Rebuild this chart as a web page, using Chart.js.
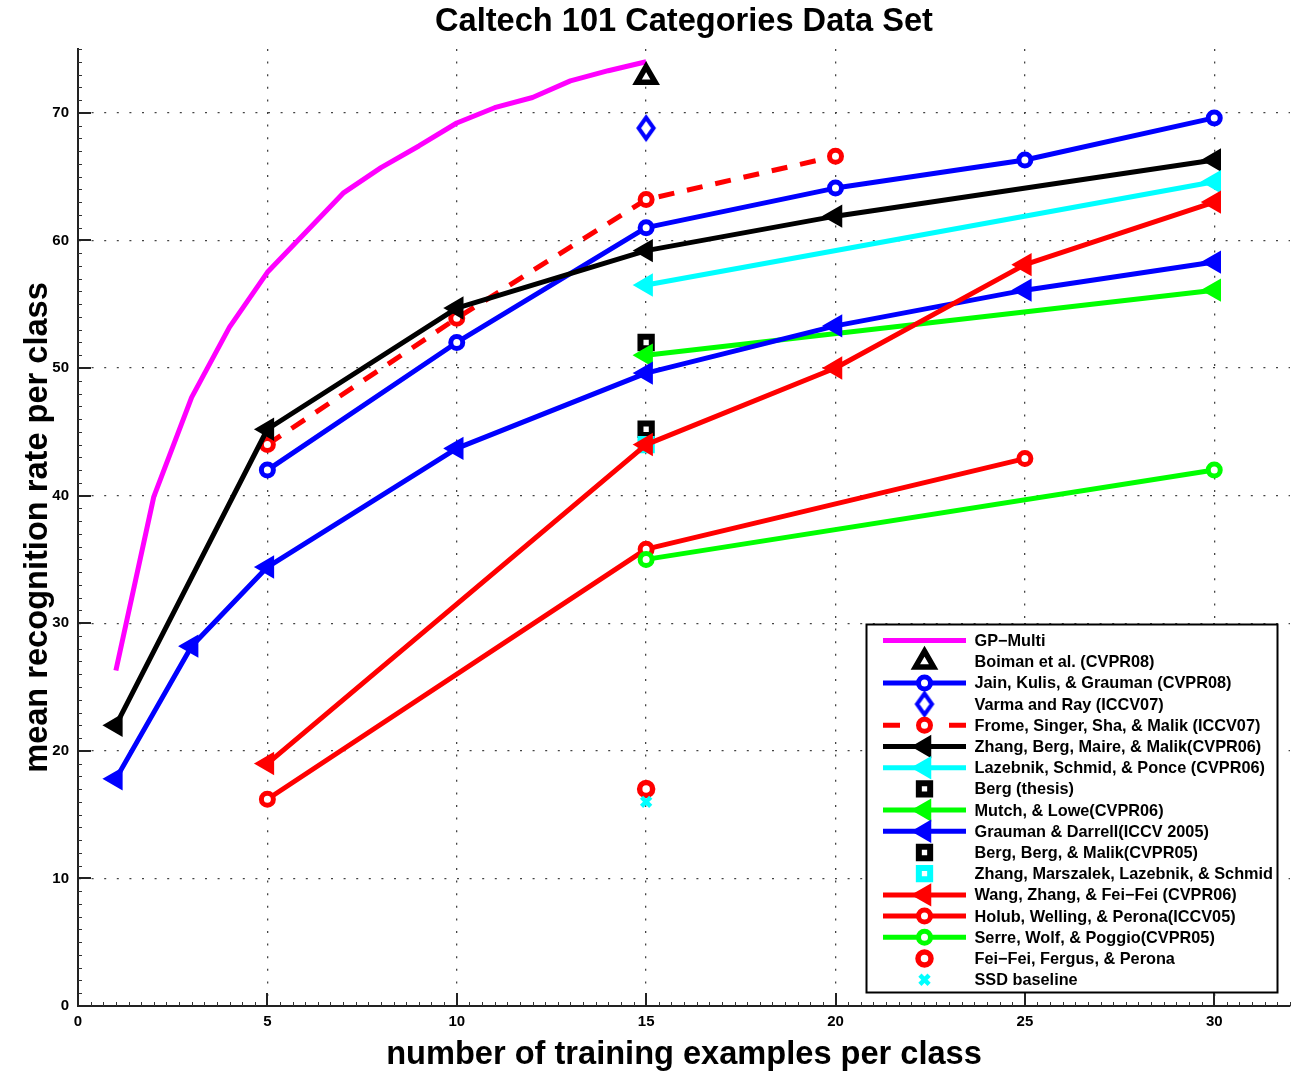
<!DOCTYPE html>
<html>
<head>
<meta charset="utf-8">
<title>Caltech 101 Categories Data Set</title>
<script src="https://cdn.jsdelivr.net/npm/chart.js@4.4.0/dist/chart.umd.min.js"></script>
<style>
  html, body { margin: 0; padding: 0; background: #ffffff; }
  #wrap { width: 1292px; height: 1073px; }
</style>
</head>
<body>
<div id="wrap"><canvas id="chart" width="1292" height="1073"></canvas></div>
<script>
// Axis ticks
const xTicks = [0, 5, 10, 15, 20, 25, 30];
const yTicks = [0, 10, 20, 30, 40, 50, 60, 70];

// Mean recognition rate (%) per number of training examples per class
const gpMultiX = [1, 2, 3, 4, 5, 6, 7, 8, 9, 10, 11, 12, 13, 14, 15];
const gpMultiY = [26.3, 39.9, 47.7, 53.2, 57.5, 60.6, 63.7, 65.7, 67.4, 69.2, 70.4, 71.2, 72.5, 73.3, 74.0];

const boimanX = [15];
const boimanY = [72.8];

const jainX = [5, 10, 15, 20, 25, 30];
const jainY = [42.0, 52.0, 61.0, 64.1, 66.3, 69.6];

const varmaX = [15];
const varmaY = [68.8];

const fromeX = [5, 10, 15, 20];
const fromeY = [44.0, 53.9, 63.2, 66.6];

const zhangBergX = [1, 5, 10, 15, 20, 30];
const zhangBergY = [22.0, 45.2, 54.7, 59.2, 61.9, 66.3];

const lazebnikX = [15, 30];
const lazebnikY = [56.5, 64.6];

const bergThesisX = [15];
const bergThesisY = [52.0];

const mutchX = [15, 30];
const mutchY = [51.0, 56.1];

const graumanX = [1, 3, 5, 10, 15, 20, 25, 30];
const graumanY = [17.8, 28.2, 34.4, 43.7, 49.6, 53.3, 56.1, 58.3];

const bergBergX = [15];
const bergBergY = [45.2];

const zhangMarszalekX = [15];
const zhangMarszalekY = [44.0];

const wangX = [5, 15, 20, 25, 30];
const wangY = [19.0, 44.0, 50.0, 58.1, 63.0];

const holubX = [5, 15, 25];
const holubY = [16.2, 35.8, 42.9];

const serreX = [15, 30];
const serreY = [35.0, 42.0];

const feiFeiX = [15];
const feiFeiY = [17.0];

const ssdX = [15];
const ssdY = [16.0];

const labels = [
  'GP\u2212Multi',
  'Boiman et al. (CVPR08)',
  'Jain, Kulis, & Grauman (CVPR08)',
  'Varma and Ray (ICCV07)',
  'Frome, Singer, Sha, & Malik (ICCV07)',
  'Zhang, Berg, Maire, & Malik(CVPR06)',
  'Lazebnik, Schmid, & Ponce (CVPR06)',
  'Berg (thesis)',
  'Mutch, & Lowe(CVPR06)',
  'Grauman & Darrell(ICCV 2005)',
  'Berg, Berg, & Malik(CVPR05)',
  'Zhang, Marszalek, Lazebnik, & Schmid',
  'Wang, Zhang, & Fei\u2212Fei (CVPR06)',
  'Holub, Welling, & Perona(ICCV05)',
  'Serre, Wolf, & Poggio(CVPR05)',
  'Fei\u2212Fei, Fergus, & Perona',
  'SSD baseline'
];

const FONT = '"Liberation Sans", Arial, Helvetica, sans-serif';
const MAGENTA = '#ff00ff', BLUE = '#0000ff', RED = '#ff0000', BLACK = '#000000', CYAN = '#00ffff', GREEN = '#00ff00';

// Tall diamond marker (drawn once into a small canvas)
function diamondMarker(color) {
  const c = document.createElement('canvas');
  c.width = 24; c.height = 30;
  const g = c.getContext('2d');
  g.lineWidth = 4;
  g.strokeStyle = color;
  g.fillStyle = '#ffffff';
  g.lineJoin = 'miter';
  g.beginPath();
  g.moveTo(12, 4.5);
  g.lineTo(19.5, 15);
  g.lineTo(12, 25.5);
  g.lineTo(4.5, 15);
  g.closePath();
  g.fill();
  g.stroke();
  return c;
}

// Marker presets
function circleMk() { return { pointStyle: 'circle', radius: 6, borderWidth: 5, fill: '#ffffff', rotation: 0 }; }
function leftTri(color) { return { pointStyle: 'triangle', radius: 11.5, borderWidth: 2, fill: color, rotation: 270 }; }
function upTri() { return { pointStyle: 'triangle', radius: 10.5, borderWidth: 5.5, fill: '#ffffff', rotation: 0 }; }
function squareMk() { return { pointStyle: 'rect', radius: 8, borderWidth: 6, fill: '#ffffff', rotation: 0 }; }
function crossMk() { return { pointStyle: 'crossRot', radius: 6.5, borderWidth: 4.5, fill: CYAN, rotation: 0 }; }
function diamondMk(color) { return { pointStyle: diamondMarker(color), radius: 10, borderWidth: 0, fill: color, rotation: 0 }; }

const series = [
  { xs: gpMultiX, ys: gpMultiY, color: MAGENTA, line: true, dash: [], marker: null },
  { xs: boimanX, ys: boimanY, color: BLACK, line: false, marker: upTri() },
  { xs: jainX, ys: jainY, color: BLUE, line: true, dash: [], marker: circleMk() },
  { xs: varmaX, ys: varmaY, color: BLUE, line: false, marker: diamondMk(BLUE) },
  { xs: fromeX, ys: fromeY, color: RED, line: true, dash: [16, 13], marker: circleMk() },
  { xs: zhangBergX, ys: zhangBergY, color: BLACK, line: true, dash: [], marker: leftTri(BLACK) },
  { xs: lazebnikX, ys: lazebnikY, color: CYAN, line: true, dash: [], marker: leftTri(CYAN) },
  { xs: bergThesisX, ys: bergThesisY, color: BLACK, line: false, marker: squareMk() },
  { xs: mutchX, ys: mutchY, color: GREEN, line: true, dash: [], marker: leftTri(GREEN) },
  { xs: graumanX, ys: graumanY, color: BLUE, line: true, dash: [], marker: leftTri(BLUE) },
  { xs: bergBergX, ys: bergBergY, color: BLACK, line: false, marker: squareMk() },
  { xs: zhangMarszalekX, ys: zhangMarszalekY, color: CYAN, line: false, marker: squareMk() },
  { xs: wangX, ys: wangY, color: RED, line: true, dash: [], marker: leftTri(RED) },
  { xs: holubX, ys: holubY, color: RED, line: true, dash: [], marker: circleMk() },
  { xs: serreX, ys: serreY, color: GREEN, line: true, dash: [], marker: circleMk() },
  { xs: feiFeiX, ys: feiFeiY, color: RED, line: false, marker: { pointStyle: 'circle', radius: 6.5, borderWidth: 5.5, fill: '#ffffff', rotation: 0 } },
  { xs: ssdX, ys: ssdY, color: CYAN, line: false, marker: crossMk() }
];

const datasets = series.map((s, i) => {
  const m = s.marker;
  return {
    label: labels[i],
    data: s.xs.map((x, k) => ({ x: x, y: s.ys[k] })),
    showLine: s.line,
    borderColor: s.color,
    borderWidth: 5,
    borderDash: s.dash || [],
    borderCapStyle: 'butt',
    borderJoinStyle: 'round',
    tension: 0,
    fill: false,
    pointStyle: m ? m.pointStyle : 'circle',
    pointRadius: m ? m.radius : 0,
    pointHoverRadius: m ? m.radius : 0,
    pointBorderWidth: m ? m.borderWidth : 0,
    pointBorderColor: s.color,
    pointBackgroundColor: m ? m.fill : s.color,
    pointRotation: m ? m.rotation : 0,
    order: -i,
    _marker: m
  };
});

// Inside tick marks (major and minor) drawn along the left and bottom axes
const axisTicks = {
  id: 'axisTicks',
  afterDatasetsDraw(chart) {
    const { ctx, chartArea: ca, scales: { x, y } } = chart;
    ctx.save();
    ctx.strokeStyle = '#333333';
    ctx.lineWidth = 1;
    for (let v = 0; v <= 32.001; v += 1 / 3) {
      const px = Math.round(x.getPixelForValue(v)) + 0.5;
      ctx.beginPath(); ctx.moveTo(px, ca.bottom); ctx.lineTo(px, ca.bottom - 4); ctx.stroke();
    }
    for (let v = 0; v <= 75; v += 1) {
      const py = Math.round(y.getPixelForValue(v)) + 0.5;
      ctx.beginPath(); ctx.moveTo(ca.left, py); ctx.lineTo(ca.left + 4, py); ctx.stroke();
    }
    ctx.lineWidth = 2;
    ctx.strokeStyle = '#222222';
    xTicks.forEach(v => {
      const px = Math.round(x.getPixelForValue(v));
      ctx.beginPath(); ctx.moveTo(px, ca.bottom); ctx.lineTo(px, ca.bottom - 13); ctx.stroke();
    });
    yTicks.forEach(v => {
      const py = Math.round(y.getPixelForValue(v));
      ctx.beginPath(); ctx.moveTo(ca.left, py); ctx.lineTo(ca.left + 13, py); ctx.stroke();
    });
    ctx.restore();
  }
};

// Boxed legend in the lower right corner showing each line style with its marker
const boxLegend = {
  id: 'boxLegend',
  afterDraw(chart) {
    const { ctx, chartArea: ca } = chart;
    const right = ca.right - 12.5, bottom = ca.bottom - 13.5;
    const w = 411, h = 368;
    const left = right - w, top = bottom - h;
    ctx.save();
    ctx.fillStyle = '#ffffff';
    ctx.fillRect(left, top, w, h);
    ctx.lineWidth = 2;
    ctx.strokeStyle = '#000000';
    ctx.strokeRect(left, top, w, h);
    const rowH = 21.2;
    const lineX0 = left + 16.5, lineX1 = left + 99.5, markX = left + 58, textX = left + 108;
    chart.data.datasets.forEach((ds, i) => {
      const cy = top + 16 + i * rowH;
      const s = series[i];
      if (s.line) {
        ctx.save();
        ctx.strokeStyle = s.color;
        ctx.lineWidth = 5;
        ctx.lineCap = 'butt';
        ctx.beginPath();
        if (s.dash && s.dash.length) {
          ctx.moveTo(lineX0, cy); ctx.lineTo(lineX0 + 17, cy);
          ctx.moveTo(lineX1 - 17, cy); ctx.lineTo(lineX1, cy);
        } else {
          ctx.moveTo(lineX0, cy); ctx.lineTo(lineX1, cy);
        }
        ctx.stroke();
        ctx.restore();
      }
      const m = ds._marker;
      if (m) {
        ctx.save();
        ctx.fillStyle = m.fill;
        ctx.strokeStyle = s.color;
        ctx.lineWidth = m.borderWidth;
        Chart.helpers.drawPoint(ctx, { pointStyle: m.pointStyle, rotation: m.rotation, radius: m.radius, borderWidth: m.borderWidth }, markX, cy);
        ctx.restore();
      }
      ctx.fillStyle = '#000000';
      ctx.font = 'bold 16.3px ' + FONT;
      ctx.textAlign = 'left';
      ctx.textBaseline = 'middle';
      ctx.fillText(ds.label, textX, cy + 1);
    });
    ctx.restore();
  }
};

const gridColor = (ctx) => (ctx.tick && ctx.tick.value === 0) ? 'rgba(0,0,0,0)' : '#444444';

new Chart(document.getElementById('chart'), {
  type: 'line',
  data: { datasets: datasets },
  options: {
    responsive: false,
    animation: false,
    events: [],
    devicePixelRatio: 1,
    layout: { autoPadding: false, padding: { left: 0, right: 2, top: 0, bottom: 0 } },
    plugins: {
      legend: { display: false },
      tooltip: { enabled: false },
      title: {
        display: true,
        fullSize: false,
        text: 'Caltech 101 Categories Data Set',
        color: '#000000',
        font: { family: FONT, size: 32.6, weight: 'bold', lineHeight: 1 },
        padding: { top: 6, bottom: 10.4 }
      }
    },
    scales: {
      x: {
        type: 'linear',
        position: 'bottom',
        min: 0,
        max: 32,
        afterBuildTicks: (s) => { s.ticks = xTicks.map(v => ({ value: v })); },
        afterFit: (s) => { s.height = 67; s.paddingLeft = 0; s.paddingRight = 0; },
        ticks: {
          color: '#000000',
          font: { family: FONT, size: 15, weight: 'bold' },
          padding: 7,
          maxRotation: 0,
          autoSkip: false,
          callback: (v) => String(v)
        },
        grid: { color: gridColor, lineWidth: 1.3, drawTicks: false },
        border: { display: true, color: '#222222', width: 2, dash: [2, 10.6] },
        title: {
          display: true,
          text: 'number of training examples per class',
          color: '#000000',
          font: { family: FONT, size: 32.6, weight: 'bold', lineHeight: 1 },
          padding: { top: 0, bottom: 2 }
        }
      },
      y: {
        type: 'linear',
        position: 'left',
        min: 0,
        max: 75,
        afterBuildTicks: (s) => { s.ticks = yTicks.map(v => ({ value: v })); },
        afterFit: (s) => { s.width = 78; s.paddingTop = 0; s.paddingBottom = 0; },
        ticks: {
          color: '#000000',
          font: { family: FONT, size: 15, weight: 'bold' },
          padding: 9,
          autoSkip: false,
          callback: (v) => String(v)
        },
        grid: { color: gridColor, lineWidth: 1.3, drawTicks: false },
        border: { display: true, color: '#222222', width: 2, dash: [2, 10.6] },
        title: {
          display: true,
          text: 'mean recognition rate per class',
          color: '#000000',
          font: { family: FONT, size: 32.6, weight: 'bold', lineHeight: 1 },
          padding: { top: 22, bottom: 0 }
        }
      }
    }
  },
  plugins: [axisTicks, boxLegend]
});
</script>
</body>
</html>
